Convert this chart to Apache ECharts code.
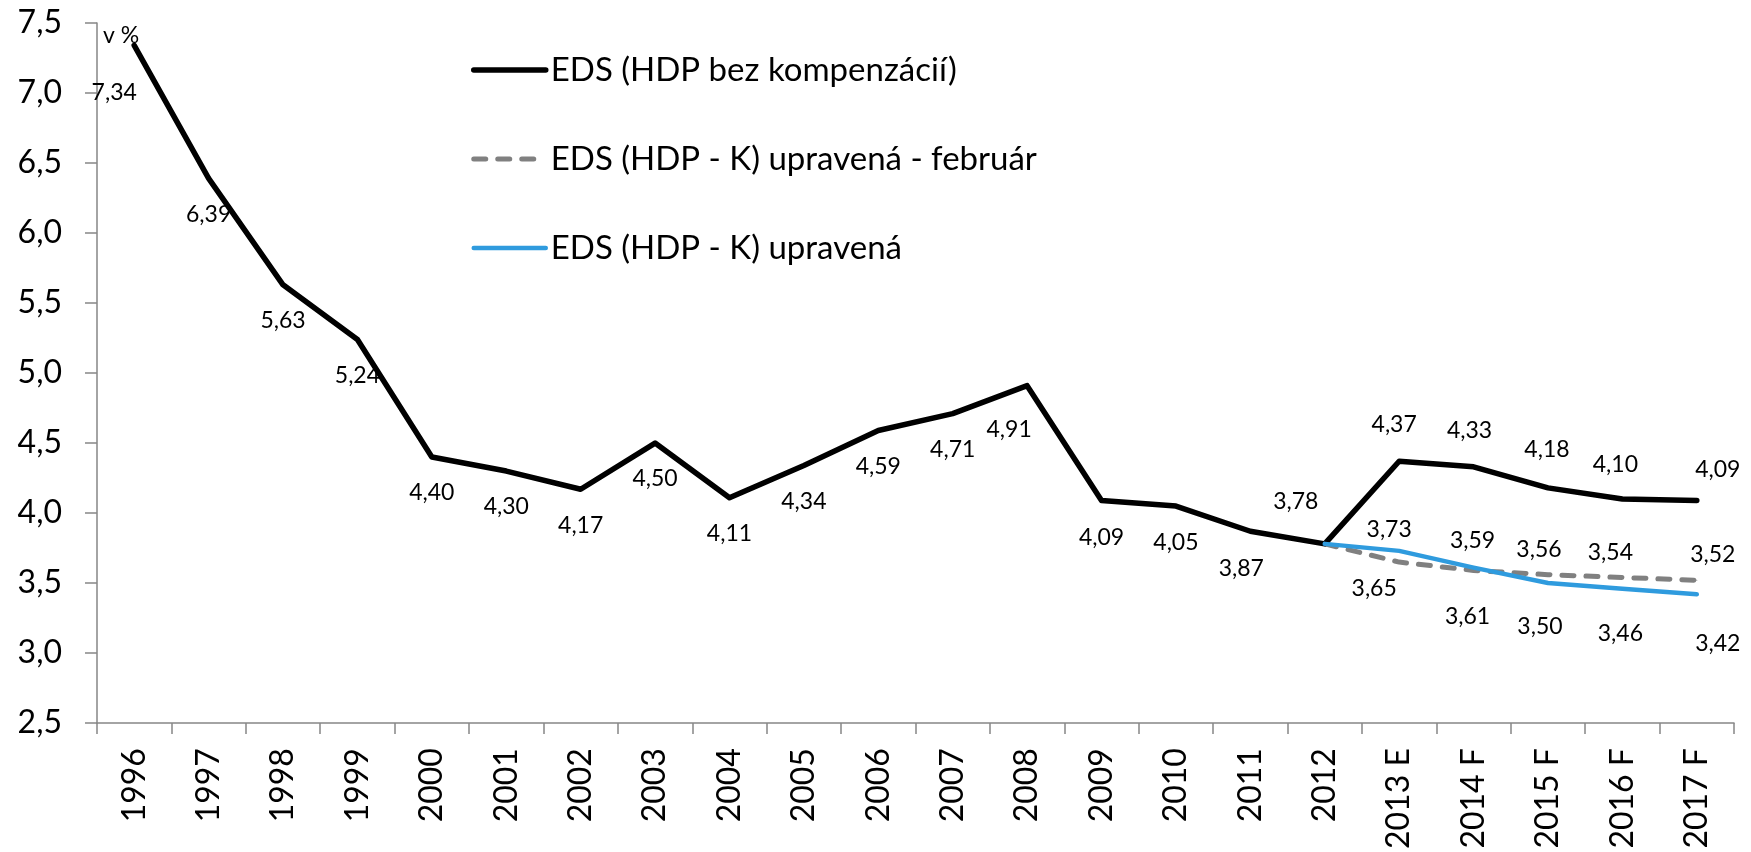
<!DOCTYPE html>
<html>
<head>
<meta charset="utf-8">
<script src="https://cdn.jsdelivr.net/npm/echarts@6/dist/echarts.min.js"></script>
<style>
html, body { margin: 0; padding: 0; background: #fff; }
#main { width: 1751px; height: 852px; }
</style>
</head>
<body>
<div id="main"></div>
<script>
// kategórie (roky)
var years = ['1996', '1997', '1998', '1999', '2000', '2001', '2002', '2003', '2004', '2005', '2006',
    '2007', '2008', '2009', '2010', '2011', '2012', '2013 E', '2014 F', '2015 F', '2016 F', '2017 F'];

// EDS (HDP bez kompenzácií)
var edsBase = [7.34, 6.39, 5.63, 5.24, 4.40, 4.30, 4.17, 4.50, 4.11, 4.34, 4.59,
    4.71, 4.91, 4.09, 4.05, 3.87, 3.78, 4.37, 4.33, 4.18, 4.10, 4.09];
// EDS (HDP - K) upravená - február
var edsFeb = [null, null, null, null, null, null, null, null, null, null, null,
    null, null, null, null, null, 3.78, 3.65, 3.59, 3.56, 3.54, 3.52];
// EDS (HDP - K) upravená
var edsAdj = [null, null, null, null, null, null, null, null, null, null, null,
    null, null, null, null, null, 3.78, 3.73, 3.61, 3.50, 3.46, 3.42];

var seriesNames = ['EDS (HDP bez kompenzácií)', 'EDS (HDP - K) upravená - február', 'EDS (HDP - K) upravená'];
var yTicks = [2.5, 7.5, 0.5]; // min, max, krok

// posuny popiskov [dx, dy] od bodu (layout, nie dáta)
var offBase = [[-20, 47], [0, 36], [0, 36], [0, 36], [0, 36], [0, 36], [0, 36], [0, 36], [0, 36], [0, 36], [0, 36],
    [0, 36], [-18, 44], [0, 37], [0, 37], [-9, 37], [-29, -42], [-5, -37], [-4, -36], [-1, -38], [-7, -34], [21, -31]];
var offFeb = {17: [-25, 27], 18: [-1, -30], 19: [-9, -25], 20: [-12, -25], 21: [16, -26]};
var offAdj = {17: [-10, -21], 18: [-6, 49], 19: [-8, 44], 20: [-2, 45], 21: [21, 49]};

var FONT = 'Lato';

// štýly čiar
var lineBase = { color: '#000', width: 5.5, cap: 'round', join: 'round' };
var lineFeb = { color: '#808080', width: 5, type: [12, 12], cap: 'round', join: 'round' };
var lineAdj = { color: '#2f9bde', width: 4.5, cap: 'round', join: 'round' };

function comma(v, d) {
    return v.toFixed(d).replace('.', ',');
}

function buildData(values, offsets) {
    return values.map(function (v, i) {
        if (v == null) return null;
        var off = offsets[i];
        return {
            value: v,
            label: off ? { show: true, offset: off } : { show: false }
        };
    });
}

var labelStyle = {
    position: 'inside',
    fontFamily: FONT,
    fontSize: 23,
    color: '#000',
    formatter: function (p) { return comma(p.value, 2); }
};

var chart = echarts.init(document.getElementById('main'));
var option = {
    animation: false,
    backgroundColor: '#fff',
    grid: { left: 97, right: 17, top: 23, bottom: 124 },
    legend: {
        orient: 'vertical',
        left: 466,
        top: 45,
        itemWidth: 72,
        itemHeight: 14,
        itemGap: 49,
        itemStyle: { opacity: 0 },
        textStyle: { fontFamily: FONT, fontSize: 33, color: '#000', lineHeight: 40 },
        data: [
            { name: seriesNames[0], lineStyle: lineBase },
            { name: seriesNames[1], lineStyle: lineFeb },
            { name: seriesNames[2], lineStyle: lineAdj }
        ]
    },
    graphic: [{
        type: 'text',
        left: 103,
        top: 24,
        style: { text: 'v %', fontFamily: FONT, fontSize: 23, fill: '#000' }
    }],
    xAxis: {
        type: 'category',
        data: years,
        boundaryGap: true,
        axisLine: { lineStyle: { color: '#868686', width: 1.5 } },
        axisTick: { show: true, interval: 0, length: 11, lineStyle: { color: '#868686', width: 1.5 } },
        axisLabel: { interval: 0, rotate: 90, margin: 25, fontFamily: FONT, fontSize: 32, color: '#000' },
        splitLine: { show: false }
    },
    yAxis: {
        type: 'value',
        min: yTicks[0],
        max: yTicks[1],
        interval: yTicks[2],
        axisLine: { show: true, lineStyle: { color: '#868686', width: 1.5 } },
        axisTick: { show: true, length: 12, lineStyle: { color: '#868686', width: 1.5 } },
        axisLabel: {
            margin: 35, fontFamily: FONT, fontSize: 32, color: '#000',
            formatter: function (v) { return comma(v, 1); }
        },
        splitLine: { show: false }
    },
    series: [{
        name: seriesNames[0],
        type: 'line',
        data: buildData(edsBase, offBase),
        symbol: 'circle',
        symbolSize: 1,
        itemStyle: { color: '#000' },
        lineStyle: lineBase,
        label: labelStyle,
        z: 3
    }, {
        name: seriesNames[1],
        type: 'line',
        data: buildData(edsFeb, offFeb),
        symbol: 'circle',
        symbolSize: 1,
        itemStyle: { color: '#808080' },
        lineStyle: lineFeb,
        label: labelStyle,
        z: 2
    }, {
        name: seriesNames[2],
        type: 'line',
        data: buildData(edsAdj, offAdj),
        symbol: 'circle',
        symbolSize: 1,
        itemStyle: { color: '#2f9bde' },
        lineStyle: lineAdj,
        label: labelStyle,
        z: 4
    }]
};
chart.setOption(option);
</script>
</body>
</html>
